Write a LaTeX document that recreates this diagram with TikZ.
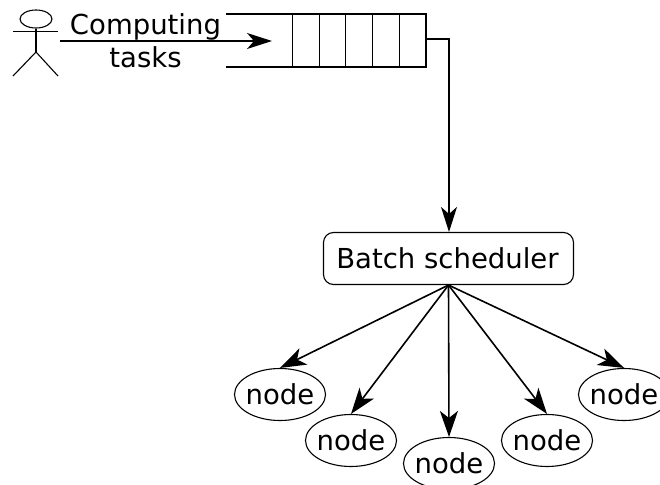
\documentclass[tikz,border=0pt]{standalone}
\usepackage{fontspec}
\setmainfont{DejaVu Sans}
\usetikzlibrary{arrows.meta,calc,shapes.geometric}
\begin{document}
\begin{tikzpicture}[x=1pt,y=-1pt,
  thickln/.style={line width=1.3pt,draw=black},
  midln/.style={line width=1.1pt,draw=black},
  thinln/.style={line width=0.9pt,draw=black},
  arrowed/.style={thickln,-{Stealth[length=25pt,width=16pt,inset=7pt]}},
  fanarrow/.style={line width=1.6pt,draw=black,-{Stealth[length=26pt,width=18pt,inset=7pt]}},
  worker/.style={ellipse,midln,minimum width=91pt,minimum height=52pt,inner sep=-3pt,font=\fontsize{27.5}{32}\selectfont},
  schedbox/.style={rectangle,rounded corners=10pt,midln,minimum width=250pt,minimum height=52pt,inner sep=0pt,font=\fontsize{27.5}{32}\selectfont},
  tasktext/.style={align=center,inner sep=0pt,font=\fontsize{27.5}{32.5}\selectfont}]
\useasboundingbox (0,0) rectangle (660,484);
\clip (0,0) rectangle (660,484);
% actor
\node[ellipse,midln,minimum width=32pt,minimum height=18pt,inner sep=0pt] (head) at (36,19) {};
\coordinate (armL) at (13,31.5);
\coordinate (armR) at (58,31.5);
\coordinate (hip) at (36,52);
\coordinate (legL) at (13,76);
\coordinate (legR) at (58,76);
\draw[midln] (armL) -- (armR);
\draw[midln] (head.south) -- (hip);
\draw[midln] (legL) -- (hip) -- (legR);
% queue
\coordinate (qtl) at (226,14);
\coordinate (qtr) at (426,14);
\coordinate (qbl) at (226,67);
\coordinate (qbr) at (426,67);
\coordinate (qout) at (426,39);
\coordinate (qin) at (272,41);
\coordinate (actorhand) at (60,41);
\draw[midln] (qtl) -- (qtr) -- (qbr) -- (qbl);
\foreach \x in {292,319,345,372,399}
  \draw[thinln] (\x,14) -- (\x,67);
% label
\node[tasktext] (tasklabel) at (145.5,40.5) {Computing\\tasks};
\draw[arrowed] (actorhand) -- (qin);
% scheduler
\node[schedbox] (batch) at (448.5,258.5) {\hspace*{-2pt}Batch scheduler};
\coordinate (bend) at (449,39);
\draw[arrowed] (qout) -- (bend) -- (bend |- batch.north);
% nodes
\node[worker] (n1) at (280,394.5) {node};
\node[worker] (n2) at (351,440.5) {node};
\node[worker] (n3) at (449,463.5) {node};
\node[worker] (n4) at (547,440.5) {node};
\node[worker] (n5) at (624,394.5) {node};
\foreach \n in {n1,n2,n3,n4,n5}
  \draw[fanarrow] (batch.south) -- (\n.north);
\end{tikzpicture}
\end{document}
